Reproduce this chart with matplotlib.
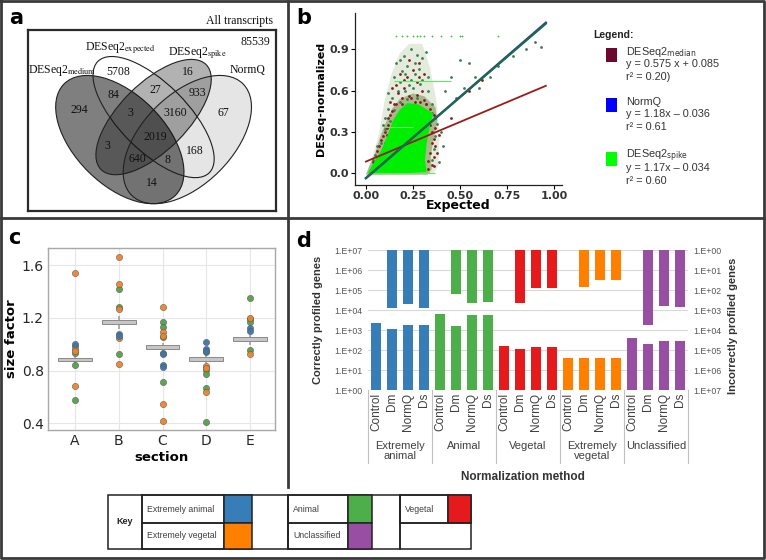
import matplotlib
matplotlib.use('Agg')
import matplotlib.pyplot as plt
import matplotlib.transforms as mtransforms
from matplotlib.patches import Ellipse, Rectangle
import numpy as np

W, H = 766, 560

# ---------------- panel a : Venn counts ----------------
venn_names = [r'DESeq2$_{\mathrm{medium}}$', r'DESeq2$_{\mathrm{expected}}$',
              r'DESeq2$_{\mathrm{spike}}$', 'NormQ']
venn_counts = [5708, 84, 294, 16, 27, 933, 3, 3160, 67, 2019, 3, 168, 640, 8, 14]
n_transcripts = 85539

# ---------------- panel b : scatter + fits ----------------
fit_names = [r'DESeq2$_{\mathrm{median}}$', 'NormQ', r'DESeq2$_{\mathrm{spike}}$']
fit_slope = [0.575, 1.18, 1.17]
fit_icpt = [0.085, -0.036, -0.034]
fit_text = ['y = 0.575 x + 0.085\nr\u00b2 = 0.20)',
            'y = 1.18x \u2013 0.036\nr\u00b2 = 0.61',
            'y = 1.17x \u2013 0.034\nr\u00b2 = 0.60']
fit_xmax = 0.957

# dense core of the spike-normalised cloud (outline)
core_x = [0.01, 0.03, 0.083, 0.119, 0.145, 0.18, 0.22, 0.28, 0.358, 0.34, 0.323, 0.314, 0.323, 0.2]
core_y = [0.0, 0.05, 0.169, 0.29, 0.387, 0.46, 0.51, 0.5, 0.435, 0.34, 0.217, 0.096, 0.01, 0.0]
# mixed band just around the core (outline)
band_x = [0.0, 0.02, 0.05, 0.08, 0.11, 0.14, 0.18, 0.25, 0.31, 0.37, 0.38, 0.36, 0.345, 0.35, 0.33]
band_y = [-0.01, 0.06, 0.15, 0.28, 0.38, 0.47, 0.54, 0.58, 0.56, 0.48, 0.38, 0.25, 0.12, 0.03, -0.01]
# sparser halo around it (outline)
halo_x = [0.0, 0.03, 0.07, 0.1, 0.136, 0.18, 0.23, 0.3, 0.34, 0.375, 0.39, 0.385, 0.358]
halo_y = [-0.02, 0.1, 0.29, 0.53, 0.72, 0.87, 0.94, 0.94, 0.77, 0.53, 0.29, 0.05, 0.0]

median_x = [0.05, 0.07, 0.08, 0.06, 0.09, 0.10, 0.11, 0.12, 0.13, 0.15, 0.17, 0.20, 0.22, 0.25,
            0.28, 0.30, 0.32, 0.34, 0.35, 0.36, 0.37, 0.36, 0.35, 0.33, 0.38, 0.39, 0.14, 0.18,
            0.24, 0.27, 0.31, 0.33, 0.10, 0.08, 0.19, 0.29, 0.45, 0.55, 0.62, 0.12,
            0.03, 0.04, 0.06, 0.07, 0.09, 0.11, 0.12, 0.14, 0.16, 0.19, 0.23, 0.27, 0.31, 0.34,
            0.36, 0.37, 0.35, 0.34, 0.33, 0.36, 0.13, 0.21, 0.26, 0.29, 0.16, 0.23, 0.20, 0.28]
median_y = [0.06, 0.10, 0.13, 0.12, 0.18, 0.22, 0.28, 0.35, 0.42, 0.50, 0.58, 0.62, 0.70, 0.75,
            0.80, 0.60, 0.50, 0.35, 0.30, 0.25, 0.20, 0.12, 0.06, 0.03, 0.15, 0.28, 0.62, 0.72,
            0.55, 0.66, 0.72, 0.42, 0.30, 0.24, 0.50, 0.52, 0.40, 0.60, 0.68, 0.08,
            0.04, 0.08, 0.16, 0.20, 0.27, 0.33, 0.40, 0.45, 0.50, 0.55, 0.56, 0.57, 0.53, 0.47,
            0.42, 0.33, 0.22, 0.15, 0.09, 0.05, 0.52, 0.48, 0.52, 0.45, 0.64, 0.82, 0.68, 0.70]
normq_x = [0.16, 0.20, 0.24, 0.27, 0.30, 0.22, 0.26, 0.18, 0.14, 0.12, 0.21, 0.29, 0.33, 0.35,
           0.37, 0.40, 0.41, 0.39, 0.10, 0.09, 0.23, 0.28, 0.32, 0.19, 0.48, 0.52, 0.58, 0.60,
           0.66, 0.70, 0.78, 0.85, 0.90, 0.93, 0.50, 0.55, 0.45, 0.42, 0.06, 0.04,
           0.05, 0.08, 0.10, 0.13, 0.15, 0.18, 0.22, 0.27, 0.32, 0.35, 0.38, 0.37, 0.36, 0.35,
           0.17, 0.25, 0.30, 0.21, 0.15, 0.26, 0.33, 0.18, 0.24, 0.12]
normq_y = [0.80, 0.85, 0.90, 0.86, 0.84, 0.78, 0.72, 0.66, 0.55, 0.47, 0.60, 0.65, 0.60, 0.50,
           0.40, 0.30, 0.20, 0.08, 0.40, 0.35, 0.64, 0.76, 0.88, 0.74, 0.55, 0.62, 0.70, 0.62,
           0.70, 0.78, 0.85, 0.90, 0.95, 0.92, 0.82, 0.80, 0.70, 0.60, 0.20, 0.10,
           0.13, 0.22, 0.32, 0.38, 0.46, 0.52, 0.54, 0.55, 0.50, 0.44, 0.36, 0.27, 0.18, 0.10,
           0.60, 0.62, 0.68, 0.72, 0.70, 0.80, 0.70, 0.82, 0.68, 0.58]
top_row_x = [0.16, 0.19, 0.22, 0.25, 0.27, 0.29, 0.31, 0.35, 0.40, 0.45, 0.50, 0.51, 0.70]
streak_y = [0.667, 0.333, 0.0]
streak_x0 = [0.15, 0.10, 0.02]
streak_x1 = [0.45, 0.25, 0.37]

# ---------------- panel c : size factors ----------------
sections = ['A', 'B', 'C', 'D', 'E']
sf_orange = [[1.541, 0.965, 0.95, 0.679],
             [1.667, 1.46, 1.265, 1.044, 0.851],
             [1.287, 1.097, 1.06, 0.542, 0.415],
             [0.836, 0.82, 0.633],
             [1.201, 0.925]]
sf_green = [[0.988, 0.932, 0.839, 0.577],
            [1.419, 1.284, 0.927],
            [1.168, 1.13, 1.054, 0.93, 0.712],
            [0.938, 0.803, 0.773, 0.668, 0.405],
            [1.353, 1.19, 1.17, 0.955]]
sf_blue = [[1.003],
           [1.079, 1.064],
           [0.922, 0.839, 0.83],
           [1.014, 0.963, 0.95],
           [1.12, 1.10]]
sf_center = [0.884, 1.168, 0.978, 0.887, 1.039]
sf_ci = [0.03, 0.05, 0.03, 0.03, 0.045]

# ---------------- panel d : profiled genes ----------------
groups = ['Extremely\nanimal', 'Animal', 'Vegetal', 'Extremely\nvegetal', 'Unclassified']
methods = ['Control', 'Dm', 'NormQ', 'Ds']
group_colors = ['#377eb8', '#4daf4a', '#e41a1c', '#ff7f00', '#984ea3']
correct = [[2330, 1120, 1780, 1780],
           [6600, 1590, 5400, 5400],
           [158, 112, 135, 135],
           [41, 41, 38, 38],
           [416, 200, 283, 283]]
incorrect = [[0, 760, 480, 760],
             [0, 165, 445, 385],
             [0, 445, 76, 76],
             [0, 74, 33, 33],
             [0, 5600, 630, 680]]

key_names = [['Extremely animal', 'Animal', 'Vegetal'],
             ['Extremely vegetal', 'Unclassified', None]]
key_colors = [['#377eb8', '#4daf4a', '#e41a1c'],
              ['#ff7f00', '#984ea3', None]]


def rect(l, t, r, b):
    # pixel box (top-left origin) -> figure fraction
    return [l / W, 1 - b / H, (r - l) / W, (b - t) / H]


fig = plt.figure(figsize=(W / 100, H / 100), dpi=100)

# overlay in pixel coordinates for frames, labels and the key
ov = fig.add_axes([0, 0, 1, 1])
ov.set_xlim(0, W)
ov.set_ylim(H, 0)
ov.axis('off')
frame = dict(color='#3a3a3a', lw=2)
ov.plot([1, W - 2, W - 2, 1, 1], [1, 1, H - 2, H - 2, 1], **frame)
ov.plot([1, W - 2], [218, 218], **frame)
ov.plot([288, 288], [1, 218], **frame)
ov.plot([288, 288], [218, 487], **frame)
for lab, x, y in [('a', 9, 24), ('b', 296, 24), ('c', 8, 244), ('d', 296, 247)]:
    ov.text(x, y, lab, fontsize=15, fontweight='bold', family='DejaVu Sans')


def plot_venn():
    ax = fig.add_axes(rect(28, 30, 276, 211))
    ax.set_xlim(-0.058, 1.044)
    ax.set_ylim(0.1525, 0.957)
    ax.set_xticks([])
    ax.set_yticks([])
    for sp in ax.spines.values():
        sp.set_linewidth(1.6)
        sp.set_color('#2a2a2a')
    # VennDiagram-style quad layout
    ell = [(0.35, 0.47, 0.35, 0.20, 135, 0.5),
           (0.50, 0.57, 0.35, 0.15, 135, 0.0),
           (0.50, 0.57, 0.33, 0.15, 45, 0.3),
           (0.65, 0.47, 0.35, 0.20, 45, 0.1)]
    for cx, cy, a, b, rot, alpha in ell:
        ax.add_patch(Ellipse((cx, cy), 2 * a, 2 * b, angle=rot,
                             facecolor=(0, 0, 0, alpha), edgecolor='#222222', lw=0.8))
    pos_x = [0.342, 0.32, 0.169, 0.653, 0.507, 0.693, 0.396, 0.596, 0.809, 0.507, 0.293, 0.684, 0.427, 0.56, 0.493]
    pos_y = [0.770, 0.668, 0.601, 0.770, 0.690, 0.677, 0.588, 0.588, 0.588, 0.481, 0.441, 0.419, 0.384, 0.379, 0.277]
    for n, x, y in zip(venn_counts, pos_x, pos_y):
        ax.text(x, y, str(n), ha='center', va='center', fontsize=8.5,
                family='Liberation Serif', color='#111111')
    name_x = [0.093, 0.351, 0.693, 0.916]
    name_y = [0.779, 0.877, 0.855, 0.779]
    for s, x, y in zip(venn_names, name_x, name_y):
        ax.text(x, y, s, ha='center', va='center', fontsize=8.5, family='Liberation Serif',
                math_fontfamily='stix', color='#111111')
    ax.text(1.031, 0.997, 'All transcripts', ha='right', va='center', fontsize=8.5,
            family='Liberation Serif', color='#111111')
    ax.text(1.018, 0.904, str(n_transcripts), ha='right', va='center', fontsize=8.5,
            family='Liberation Serif', color='#111111')


def plot_scatter():
    ax = fig.add_axes(rect(355, 13, 562, 185))
    ax.fill(halo_x, halo_y, color='#e3ecdc', lw=0, zorder=1)
    ax.fill(band_x, band_y, color='#a7b98c', lw=0, zorder=1)
    ax.scatter(normq_x, normq_y, s=4, color='#3d7a55', lw=0, zorder=2)
    ax.scatter(median_x, median_y, s=4, color='#8b1a1a', lw=0, zorder=2)
    ax.fill(core_x, core_y, color='#00ee00', lw=0, zorder=3)
    ax.hlines(streak_y, streak_x0, streak_x1, color='#66e466', lw=0.8, zorder=4)
    ax.scatter(top_row_x, [1.0] * len(top_row_x), s=3, marker='+', color='#33cc33', lw=0.6, zorder=4)
    xs = np.array([0, fit_xmax])
    ax.plot(xs, fit_slope[0] * xs + fit_icpt[0], color='#9b1b1b', lw=1.3, zorder=5)
    ax.plot(xs, fit_slope[1] * xs + fit_icpt[1], color='#2a3fb0', lw=1.7, zorder=5)
    ax.plot(xs, fit_slope[2] * xs + fit_icpt[2], color='#1c6e3c', lw=1.4, zorder=6)
    ax.set_xlim(-0.058, 1.043)
    ax.set_ylim(-0.085, 1.164)
    ax.set_xticks([0, 0.25, 0.5, 0.75, 1.0])
    ax.set_xticklabels(['0.00', '0.25', '0.50', '0.75', '1.00'])
    ax.set_yticks([0, 0.3, 0.6, 0.9])
    ax.tick_params(labelsize=8, length=3, width=0.8, pad=1)
    for t in ax.get_xticklabels() + ax.get_yticklabels():
        t.set_fontweight('bold')
        t.set_color('#333333')
    ax.spines['top'].set_visible(False)
    ax.spines['right'].set_visible(False)
    for sp in ['left', 'bottom']:
        ax.spines[sp].set_linewidth(0.9)
        ax.spines[sp].set_color('#222222')
    ax.set_xlabel('Expected', fontsize=9, fontweight='bold', labelpad=-1)
    ax.set_ylabel('DESeq-normalized', fontsize=8, fontweight='bold', labelpad=3)
    # legend to the right
    ov.text(593, 35, 'Legend:', fontsize=7.5, fontweight='bold', family='Liberation Sans',
            va='center', color='#222222')
    colors = ['#6b0a2e', '#0000ff', '#00ff00']
    tops = [48, 98, 152]
    for name, txt, c, t in zip(fit_names, fit_text, colors, tops):
        ov.add_patch(Rectangle((606, t), 11, 14, color=c, lw=0))
        ov.text(626, t + 4, name, fontsize=7.8, family='Liberation Sans', math_fontfamily='dejavusans',
                va='center', color='#333333')
        ov.text(626, t + 11, txt, fontsize=7.8, family='Liberation Sans', va='top',
                linespacing=1.35, color='#333333')


def plot_sizefactors():
    ax = fig.add_axes(rect(48, 248, 275, 430))
    ax.grid(True, color='#e6e6e6', lw=0.8)
    ax.set_axisbelow(True)
    xs = np.arange(len(sections))
    ax.vlines(xs, np.array(sf_center) - np.array(sf_ci), np.array(sf_center) + np.array(sf_ci),
              color='#9a9a9a', lw=1.1, zorder=2)
    ax.bar(xs, 0.026, bottom=np.array(sf_center) - 0.013, width=0.77,
           color='#c6c6c6', edgecolor='#8a8a8a', lw=0.7, zorder=3)
    for vals, c in [(sf_green, '#55a048'), (sf_orange, '#f0832a'), (sf_blue, '#3b75af')]:
        for i, v in enumerate(vals):
            ax.scatter([i] * len(v), v, s=20, color=c, edgecolor='#5a5a5a', lw=0.4, zorder=4, alpha=0.95)
    ax.set_xlim(-0.617, 4.57)
    ax.set_ylim(0.347, 1.733)
    ax.set_xticks(xs)
    ax.set_xticklabels(sections)
    ax.set_yticks([0.4, 0.8, 1.2, 1.6])
    ax.tick_params(labelsize=10, length=0, pad=3, colors='#262626')
    for sp in ax.spines.values():
        sp.set_color('#a8a8a8')
        sp.set_linewidth(1)
    ax.set_xlabel('section', fontsize=9.5, fontweight='bold', labelpad=2)
    ax.set_ylabel('size factor', fontsize=9.5, fontweight='bold', labelpad=3)


def plot_bars():
    ax = fig.add_axes(rect(368, 250, 688, 390))
    ax2 = ax.twinx()
    n = len(methods)
    for g, c in enumerate(group_colors):
        x = np.arange(n) + g * n
        ax.bar(x, np.array(correct[g]) - 1, bottom=1, width=0.66, color=c, lw=0)
        inc = np.array(incorrect[g], dtype=float)
        keep = inc > 1
        ax2.bar(x[keep], inc[keep] - 1, bottom=1, width=0.66, color=c, lw=0)
    ax.set_yscale('log')
    ax2.set_yscale('log')
    ax.set_ylim(1, 1e7)
    ax2.set_ylim(1e7, 1)
    ticks = [10.0 ** k for k in range(8)]
    labs = ['1.E+%02d' % k for k in range(8)]
    for a in (ax, ax2):
        a.set_yticks(ticks)
        a.set_yticklabels(labs)
        a.minorticks_off()
        a.tick_params(axis='y', labelsize=6.3, length=0, pad=4, colors='#555555')
        for sp in a.spines.values():
            sp.set_visible(False)
        for t in a.get_yticklabels():
            t.set_family('Liberation Sans')
    ax.yaxis.grid(True, color='#d9d9d9', lw=0.8)
    ax.set_axisbelow(True)
    ax.set_xlim(-0.5, n * len(groups) - 0.5)
    ax.set_xticks(np.arange(n * len(groups)))
    ax.set_xticklabels(methods * len(groups), rotation=90, va='top', fontsize=8.5,
                       family='Liberation Sans', color='#404040')
    ax.tick_params(axis='x', length=0, pad=2)
    tr = mtransforms.blended_transform_factory(ax.transData, ax.transAxes)
    for g in range(len(groups) + 1):
        ax.plot([g * n - 0.5] * 2, [0, -0.52], transform=tr, color='#c0c0c0', lw=0.8, clip_on=False)
    for g, name in enumerate(groups):
        ax.text(g * n + 1.5, -0.364, name, transform=tr, ha='center', va='top', fontsize=8,
                family='Liberation Sans', color='#404040', linespacing=1.05)
    ov.text(318, 320, 'Correctly profiled genes', rotation=90, ha='center', va='center',
            fontsize=8, fontweight='bold', family='Liberation Sans', color='#333333')
    ov.text(733, 326, 'Incorrectly profiled genes', rotation=90, ha='center', va='center',
            fontsize=8, fontweight='bold', family='Liberation Sans', color='#333333')
    ov.text(523, 477, 'Normalization method', ha='center', va='center',
            fontsize=8.5, fontweight='bold', family='Liberation Sans', color='#333333')


def plot_key():
    top, mid, bot = 495, 523, 549
    lw = 1.1
    # outer boxes of the three column blocks
    blocks = [(108, 288), (288, 400), (400, 471)]
    for l, r in blocks:
        ov.add_patch(Rectangle((l, top), r - l, bot - top, fill=False, ec='#222222', lw=lw))
    ov.plot([142, 142], [top, bot], color='#222222', lw=lw)
    ov.text(125, (top + bot) / 2, 'Key', ha='center', va='center', fontsize=6.5,
            fontweight='bold', family='Liberation Sans', color='#222222')
    text_cols = [(142, 224, 252), (288, 348, 372), (400, 448, 471)]
    for row, (y0, y1) in enumerate([(top, mid), (mid, bot)]):
        for col, (l, m, r) in enumerate(text_cols):
            name = key_names[row][col]
            c = key_colors[row][col]
            if name is None:
                continue
            ov.add_patch(Rectangle((l, y0), m - l, y1 - y0, fill=False, ec='#222222', lw=lw))
            ov.add_patch(Rectangle((m, y0), r - m, y1 - y0, facecolor=c, ec='#222222', lw=lw))
            ov.text(l + 5, (y0 + y1) / 2, name, ha='left', va='center', fontsize=6.3,
                    family='Liberation Sans', color='#404040')
    ov.plot([400, 471], [mid, mid], color='#222222', lw=lw)


plot_venn()
plot_scatter()
plot_sizefactors()
plot_bars()
plot_key()

fig.savefig('out.png', dpi=100)
